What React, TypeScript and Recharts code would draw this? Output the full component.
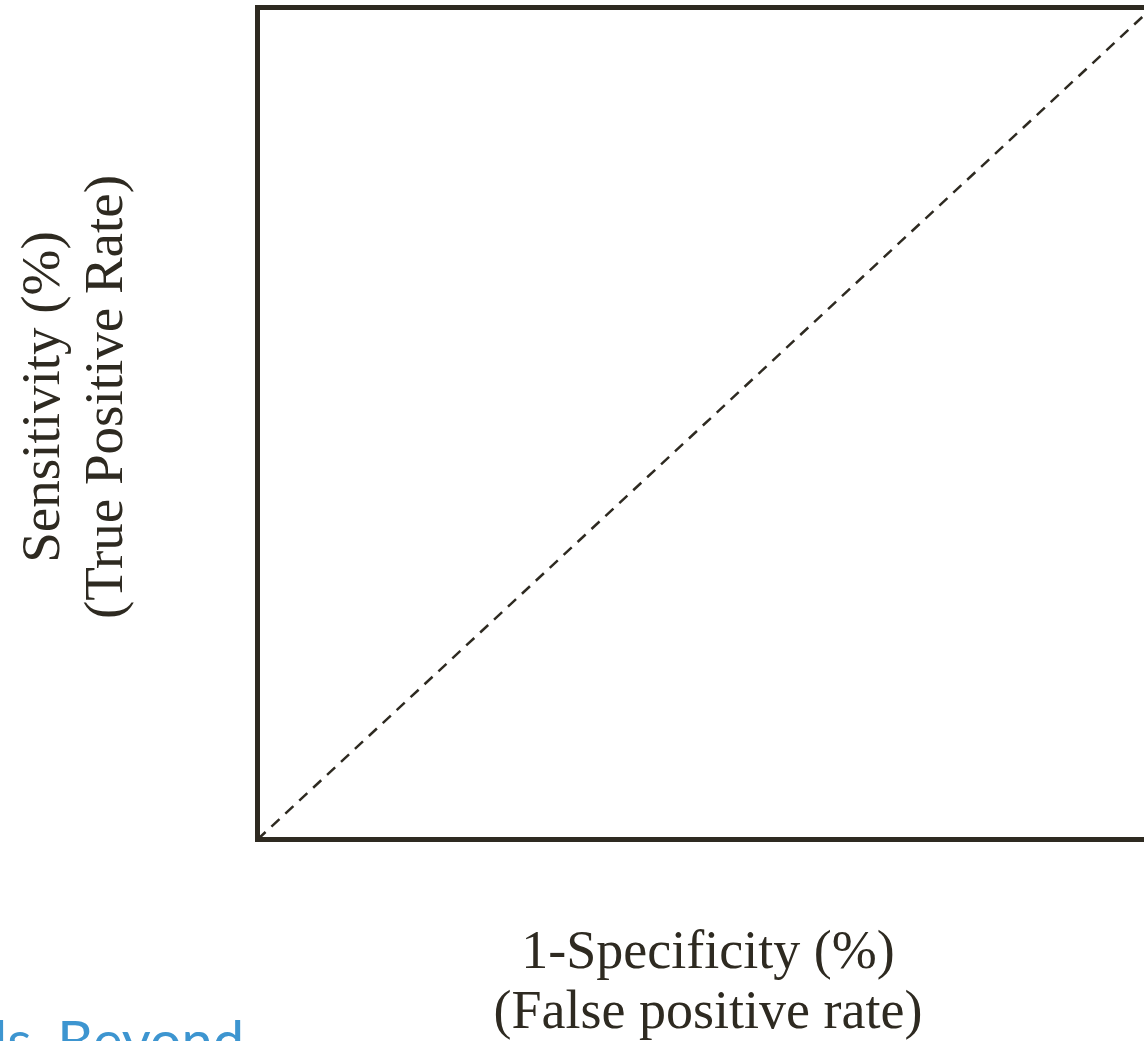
import React from 'react';
import { LineChart, Line, XAxis, YAxis, ReferenceArea } from 'recharts';

// reference diagonal (random classifier): FPR vs TPR, percent
const fprValues = [0, 100];
const tprValues = [0, 100];
const axisDomain = [0, 100];

const xLabelLines = ['1-Specificity (%)', '(False positive rate)'];
const yLabelLines = ['Sensitivity (%)', '(True Positive Rate)'];

const ink = '#2e2a21';
const serif = '"Liberation Serif", "Times New Roman", serif';

const data = fprValues.map((fpr, i) => ({ fpr, tpr: tprValues[i] }));

export default function App() {
    return (
        <div style={{ position: 'absolute', left: 0, top: 0, width: 1144, height: 1041, overflow: 'hidden', background: '#fff' }}>
            <LineChart
                width={1200}
                height={1041}
                data={data}
                margin={{ top: 7.5, left: 257.5, right: 47.5, bottom: 201.5 }}
            >
                <XAxis type="number" dataKey="fpr" domain={axisDomain} hide />
                <YAxis type="number" domain={axisDomain} hide />
                <ReferenceArea
                    x1={axisDomain[0]}
                    x2={axisDomain[1]}
                    y1={axisDomain[0]}
                    y2={axisDomain[1]}
                    fill="none"
                    fillOpacity={0}
                    stroke={ink}
                    strokeWidth={5}
                    strokeOpacity={1}
                />
                <Line
                    type="linear"
                    dataKey="tpr"
                    stroke={ink}
                    strokeWidth={2.5}
                    strokeDasharray="11 8"
                    dot={false}
                    activeDot={false}
                    isAnimationActive={false}
                />
            </LineChart>

            {/* y label, two rotated lines */}
            {yLabelLines.map((t, i) => (
                <div
                    key={t}
                    style={{
                        position: 'absolute',
                        left: 40 + i * 63,
                        top: 397,
                        transform: 'translate(-50%, -50%) rotate(-90deg)',
                        whiteSpace: 'nowrap',
                        fontFamily: serif,
                        fontSize: 55,
                        lineHeight: 1,
                        color: ink,
                    }}
                >
                    {t}
                </div>
            ))}

            {/* x label */}
            {xLabelLines.map((t, i) => (
                <div
                    key={t}
                    style={{
                        position: 'absolute',
                        left: 708,
                        top: 950 + i * 60,
                        transform: 'translate(-50%, -50%)',
                        whiteSpace: 'nowrap',
                        fontFamily: serif,
                        fontSize: 54,
                        lineHeight: 1,
                        color: ink,
                    }}
                >
                    {t}
                </div>
            ))}

            {/* cut-off logo in the corner */}
            <div
                style={{
                    position: 'absolute',
                    left: -6,
                    top: 1012,
                    whiteSpace: 'nowrap',
                    fontFamily: 'Lato, "Open Sans", sans-serif',
                    fontSize: 56,
                    lineHeight: 1,
                    color: '#3d95d0',
                }}
            >
                ls<span style={{ fontSize: 22, color: '#2b3a44', margin: '0 5px' }}>&amp;</span>Beyond
            </div>
        </div>
    );
}
